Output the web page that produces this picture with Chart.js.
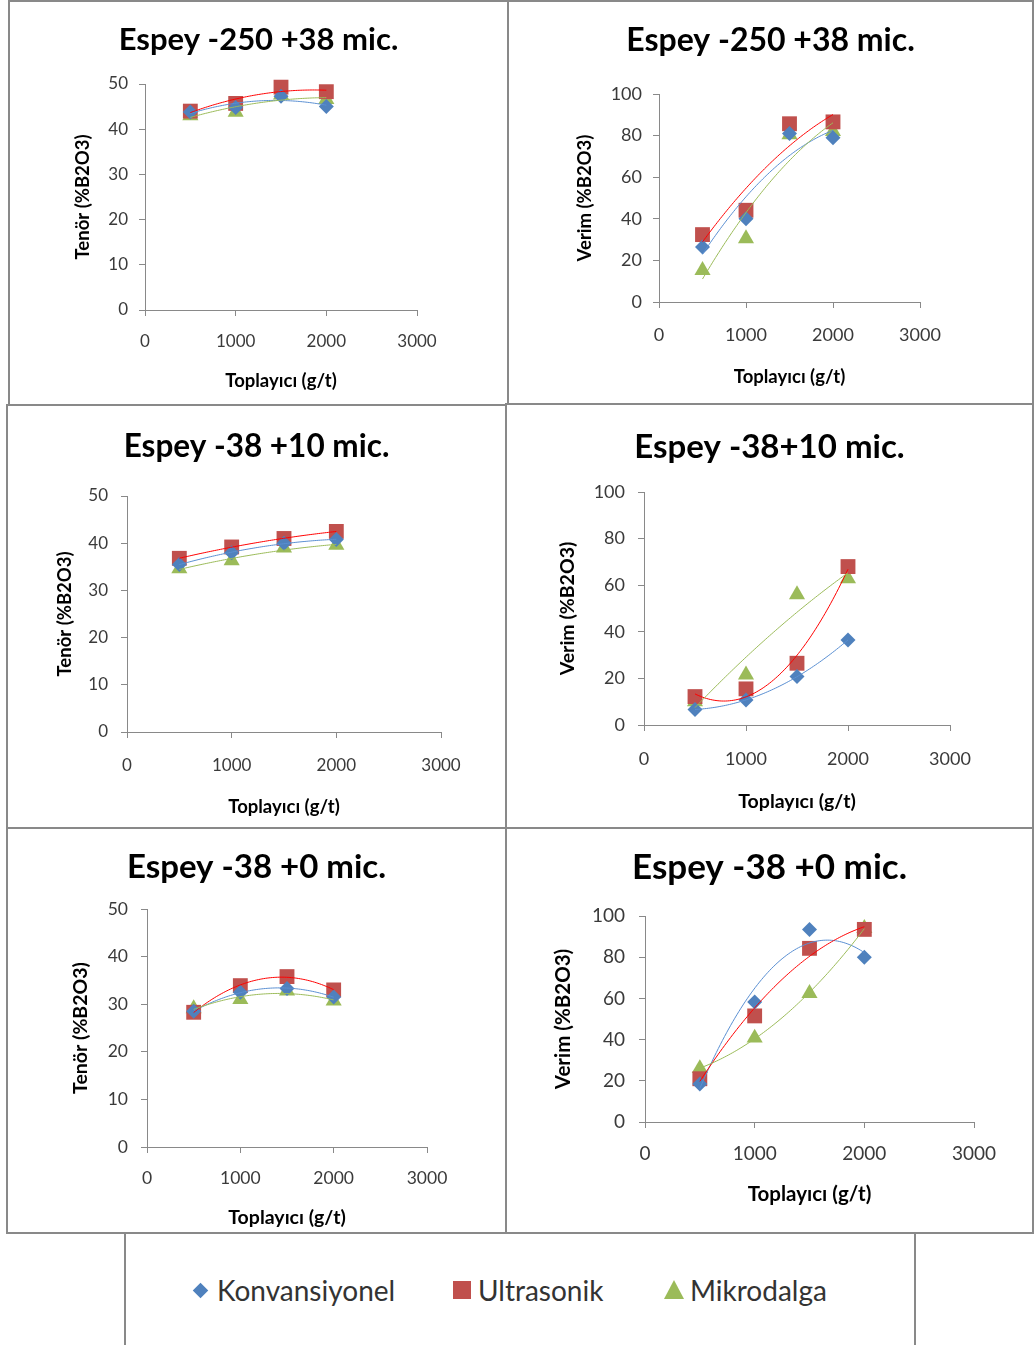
<!DOCTYPE html>
<html>
<head>
<meta charset="utf-8">
<script src="https://cdn.jsdelivr.net/npm/chart.js@4.4.1/dist/chart.umd.min.js"></script>
<style>
  html, body { margin: 0; padding: 0; background: #fff; }
  body { width: 1034px; height: 1345px; position: relative; overflow: hidden; font-family: Lato, "Open Sans", sans-serif; }
  .panel { position: absolute; box-sizing: border-box; border: 2px solid #898989; background: #fff; }
  .panel canvas { display: block; }
  #legend { position: absolute; left: 124px; top: 1232px; width: 792px; height: 130px; box-sizing: border-box; border: 2px solid #898989; background: #fff; }
  #legend .mk { position: absolute; }
  #legend .lbl { position: absolute; top: 36px; height: 40px; line-height: 40px; font-size: 28px; color: #333; white-space: nowrap; }
</style>
</head>
<body>
<div id="legend"></div>
<script>
// collector dosage (g/t)
const toplayici = [500, 1000, 1500, 2000];
const seriesNames = ['Konvansiyonel', 'Ultrasonik', 'Mikrodalga'];

// -250 +38 mic.
const tenor250Konv  = [43.8, 44.8, 47.3, 45];
const tenor250Ultra = [44, 45.7, 49.3, 48.3];
const tenor250Mikro = [43, 43.8, 47.6, 46.6];
const verim250Konv  = [26.5, 40, 81, 79];
const verim250Ultra = [32.4, 44.1, 85.7, 86.6];
const verim250Mikro = [15.2, 30.5, 80.5, 82];

// -38 +10 mic.
const tenor38Konv  = [35.5, 38, 40, 40.8];
const tenor38Ultra = [36.8, 39.2, 41, 42.5];
const tenor38Mikro = [34.6, 36.3, 39, 39.6];
const verim38Konv  = [6.7, 10.7, 20.8, 36.5];
const verim38Ultra = [12.2, 15.5, 26.5, 68];
const verim38Mikro = [10, 21.5, 56, 62.8];

// -38 +0 mic.
const tenor0Konv  = [28.5, 32.5, 33.3, 31.5];
const tenor0Ultra = [28.3, 33.9, 35.8, 33];
const tenor0Mikro = [29.1, 31, 32.8, 30.7];
const verim0Konv  = [18.5, 58.3, 93.5, 80];
const verim0Ultra = [21, 51.5, 84.3, 93.5];
const verim0Mikro = [26, 40.8, 62.5, 94];

const panelTitles = ['Espey -250 +38 mic.', 'Espey -250 +38 mic.', 'Espey -38 +10 mic.', 'Espey -38+10 mic.', 'Espey -38 +0 mic.', 'Espey -38 +0 mic.'];
const yTitles = ['Tenör (%B2O3)', 'Verim (%B2O3)', 'Tenör (%B2O3)', 'Verim (%B2O3)', 'Tenör (%B2O3)', 'Verim (%B2O3)'];
const yMaxes = [50, 100, 50, 100, 50, 100];
const xTitle = 'Toplayıcı (g/t)';
const xTicks = [0, 1000, 2000, 3000];

const panelSeries = [
  [tenor250Konv, tenor250Ultra, tenor250Mikro],
  [verim250Konv, verim250Ultra, verim250Mikro],
  [tenor38Konv, tenor38Ultra, tenor38Mikro],
  [verim38Konv, verim38Ultra, verim38Mikro],
  [tenor0Konv, tenor0Ultra, tenor0Mikro],
  [verim0Konv, verim0Ultra, verim0Mikro]
];

const markerColors = ['#4F81BD', '#C0504D', '#9BBB59'];
const trendColors = ['#5A8FD2', '#FF0000', '#9BBB59'];
const markerStyles = ['rectRot', 'rect', 'triangle'];
const markerRadius = [7.5, 10.5, 9.3];
const GRID = '#898989';
const TICK = '#3a3a3a';

// box = [left, top, width, height]; plot = [left, top, right, bottom] (page px)
const panelLayout = [
  { box: [8, 0, 501, 406],   plot: [145, 84, 417, 310],   titleY: 40,  tickY: 342,  xTitleY: 381,  yTitleX: 83,  yGap: 17, tickSize: 17,   axisSize: 18.5, titleSize: 31 },
  { box: [507, 0, 527, 405], plot: [659, 94, 920, 302],   titleY: 41,  tickY: 335,  xTitleY: 377,  yTitleX: 585, yGap: 17, tickSize: 18,   axisSize: 18.5, titleSize: 32 },
  { box: [6, 404, 501, 425], plot: [127, 496, 441, 732],  titleY: 447, tickY: 766,  xTitleY: 807,  yTitleX: 65,  yGap: 19, tickSize: 17,   axisSize: 18.5, titleSize: 31.5 },
  { box: [505, 403, 529, 426], plot: [644, 492, 950, 725], titleY: 447, tickY: 759, xTitleY: 802,  yTitleX: 568, yGap: 19, tickSize: 18,   axisSize: 19.5, titleSize: 33 },
  { box: [6, 827, 501, 407], plot: [147, 909, 427, 1147], titleY: 867, tickY: 1178, xTitleY: 1218, yTitleX: 81,  yGap: 19, tickSize: 17.5, axisSize: 19.5, titleSize: 33 },
  { box: [505, 827, 529, 407], plot: [645, 916, 974, 1122], titleY: 868, tickY: 1154, xTitleY: 1194, yTitleX: 563, yGap: 20, tickSize: 19, axisSize: 20.5, titleSize: 35 }
];

Chart.defaults.font.family = 'Lato, "Open Sans", sans-serif';

// least squares polynomial through the points, x scaled to thousands
function polyFit(points, order) {
  const n = order + 1;
  const A = Array.from({length: n}, () => new Array(n + 1).fill(0));
  points.forEach(p => {
    const t = p.x / 1000;
    for (let r = 0; r < n; r++) {
      for (let c = 0; c < n; c++) A[r][c] += Math.pow(t, r + c);
      A[r][n] += p.y * Math.pow(t, r);
    }
  });
  for (let i = 0; i < n; i++) {
    let piv = i;
    for (let r = i + 1; r < n; r++) if (Math.abs(A[r][i]) > Math.abs(A[piv][i])) piv = r;
    [A[i], A[piv]] = [A[piv], A[i]];
    for (let r = 0; r < n; r++) {
      if (r === i) continue;
      const f = A[r][i] / A[i][i];
      for (let c = i; c <= n; c++) A[r][c] -= f * A[i][c];
    }
  }
  return A.map((row, i) => row[n] / row[i]);
}

const trendlinePlugin = {
  id: 'trendline',
  afterDatasetsDraw(chart) {
    const {ctx, scales: {x, y}} = chart;
    chart.data.datasets.forEach(ds => {
      if (!ds.trendColor) return;
      const coef = polyFit(ds.data, 2);
      const xs = ds.data.map(p => p.x);
      const lo = Math.min(...xs), hi = Math.max(...xs);
      ctx.save();
      ctx.strokeStyle = ds.trendColor;
      ctx.lineWidth = 1;
      ctx.beginPath();
      for (let i = 0; i <= 80; i++) {
        const xv = lo + (hi - lo) * i / 80;
        const t = xv / 1000;
        const yv = coef[0] + coef[1] * t + coef[2] * t * t;
        const px = x.getPixelForValue(xv), py = y.getPixelForValue(yv);
        if (i === 0) ctx.moveTo(px, py); else ctx.lineTo(px, py);
      }
      ctx.stroke();
      ctx.restore();
    });
  }
};

// heading centred over the whole panel, not just the plot area
const panelTitlePlugin = {
  id: 'panelTitle',
  afterDraw(chart, args, opts) {
    const ctx = chart.ctx;
    ctx.save();
    ctx.font = 'bold ' + opts.size + 'px ' + Chart.defaults.font.family;
    ctx.fillStyle = '#000';
    ctx.textAlign = 'center';
    ctx.textBaseline = 'middle';
    ctx.fillText(opts.text, chart.width / 2, opts.y);
    ctx.restore();
  }
};

panelLayout.forEach((lay, i) => {
  const [bx, by, bw, bh] = lay.box;
  const [pl, pt, pr, pb] = lay.plot;
  const div = document.createElement('div');
  div.className = 'panel';
  Object.assign(div.style, {left: bx + 'px', top: by + 'px', width: bw + 'px', height: bh + 'px'});
  const canvas = document.createElement('canvas');
  const cw = bw - 4, ch = bh - 4;
  canvas.width = cw;
  canvas.height = ch;
  canvas.style.width = cw + 'px';
  canvas.style.height = ch + 'px';
  div.appendChild(canvas);
  document.body.appendChild(div);

  const ox = bx + 2, oy = by + 2;
  const tickLH = lay.tickSize * 1.2, axisLH = lay.axisSize * 1.2;

  new Chart(canvas, {
    type: 'scatter',
    data: {
      datasets: seriesNames.map((name, k) => ({
        label: name,
        data: toplayici.map((x, j) => ({x: x, y: panelSeries[i][k][j]})),
        pointStyle: markerStyles[k],
        pointRadius: markerRadius[k],
        backgroundColor: markerColors[k],
        borderColor: markerColors[k],
        borderWidth: 0,
        trendColor: trendColors[k],
        clip: false
      }))
    },
    options: {
      responsive: false,
      animation: false,
      events: [],
      layout: {padding: {left: 0, top: pt - oy, right: cw - (pr - ox), bottom: 0}},
      plugins: {
        legend: {display: false},
        tooltip: {enabled: false},
        panelTitle: {text: panelTitles[i], y: lay.titleY - oy, size: lay.titleSize}
      },
      scales: {
        x: {
          type: 'linear',
          min: 0,
          max: 3000,
          afterBuildTicks: s => { s.ticks = xTicks.map(v => ({value: v})); },
          ticks: {color: TICK, font: {size: lay.tickSize}, padding: (lay.tickY - pb) - 6 - tickLH / 2,
                  maxRotation: 0, autoSkip: false, callback: v => String(v)},
          grid: {drawOnChartArea: false, tickLength: 6, color: GRID},
          border: {color: GRID},
          title: {display: true, text: xTitle, color: '#000', font: {size: lay.axisSize, weight: 'bold'},
                  padding: {top: 0, bottom: (oy + ch - lay.xTitleY) - axisLH / 2}},
          afterFit: s => { s.height = oy + ch - pb; }
        },
        y: {
          min: 0,
          max: yMaxes[i],
          ticks: {stepSize: yMaxes[i] / 5, color: TICK, font: {size: lay.tickSize}, padding: lay.yGap - 6,
                  callback: v => String(v)},
          grid: {drawOnChartArea: false, tickLength: 6, color: GRID},
          border: {color: GRID},
          title: {display: true, text: yTitles[i], color: '#000', font: {size: lay.axisSize, weight: 'bold'},
                  padding: {top: (lay.yTitleX - ox) - axisLH / 2, bottom: 0}},
          afterFit: s => { s.width = pl - ox; }
        }
      }
    },
    plugins: [trendlinePlugin, panelTitlePlugin]
  });
});

// shared legend under the grid
const legendMarks = [
  {left: 69, top: 50.5, css: 'width:11px;height:11px;transform:rotate(45deg);background:#4F81BD;', text: 91},
  {left: 327, top: 47, css: 'width:18px;height:18px;background:#C0504D;', text: 352},
  {left: 538, top: 46, css: 'width:0;height:0;border-left:10px solid transparent;border-right:10px solid transparent;border-bottom:19px solid #9BBB59;', text: 564}
];
const legend = document.getElementById('legend');
seriesNames.forEach((name, k) => {
  const m = legendMarks[k];
  const mk = document.createElement('span');
  mk.className = 'mk';
  mk.style.cssText = 'left:' + m.left + 'px;top:' + m.top + 'px;' + m.css;
  const lbl = document.createElement('span');
  lbl.className = 'lbl';
  lbl.style.left = m.text + 'px';
  lbl.textContent = name;
  legend.appendChild(mk);
  legend.appendChild(lbl);
});
</script>
</body>
</html>
